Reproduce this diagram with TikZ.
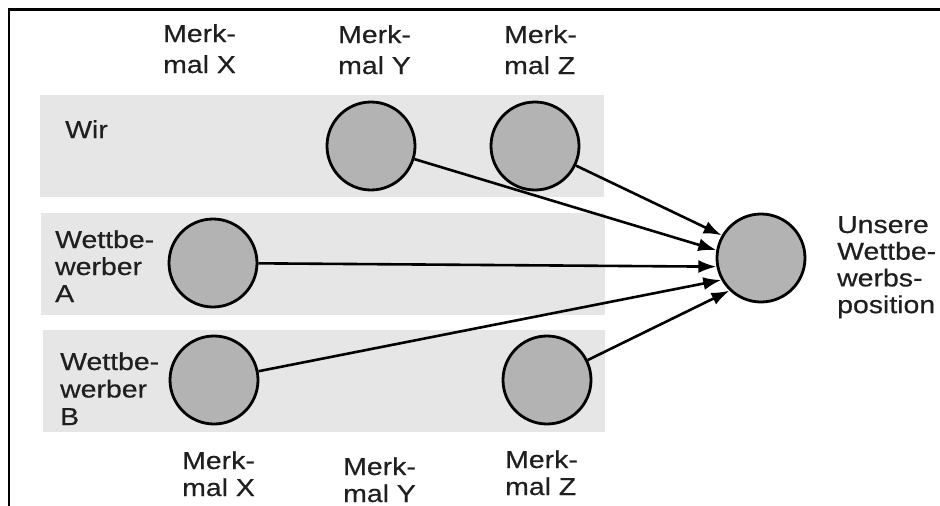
\documentclass[tikz,border=0pt]{standalone}
\usepackage{fontspec}
\setmainfont{Liberation Sans}[FakeStretch=1.16,FakeBold=0.5]
\usetikzlibrary{arrows.meta}

% left-aligned block of lines whose reference point is the first baseline
\newcommand\linestack[2]{\vtop{\baselineskip=#1pt\lineskiplimit=-20pt\lineskip=0pt
  \halign{##\hfil\cr#2\crcr}}}

\definecolor{bandgray}{HTML}{E6E6E6}
\definecolor{dotgray}{HTML}{B3B3B3}

\begin{document}
\begin{tikzpicture}[x=1pt,y=-1pt,
  every node/.style={font=\fontsize{24.5}{28}\selectfont},
  label/.style={anchor=base west,inner sep=0pt,text=black!88},
  band/.style={fill=bandgray,draw=none},
  dot/.style={circle,draw=black,fill=dotgray,line width=2.8pt,minimum size=88pt,inner sep=0pt},
  link/.style={line width=2.6pt,-{Latex[length=18pt,width=13pt]}}]
\useasboundingbox (0,0) rectangle (940,506);

% frame edges
\draw[line width=3pt] (8,9) -- (940,9);
\draw[line width=2.6pt] (9,8) -- (9,506);

% row bands
\fill[band] (40,95) rectangle (604,197);
\fill[band] (41,213) rectangle (605,315);
\fill[band] (43,330) rectangle (605,432);

% column headings
\node[label] (hx) at (163,42) {\linestack{31}{Merk-\cr mal X}};
\node[label] (hy) at (338,43) {\linestack{31}{Merk-\cr mal Y}};
\node[label] (hz) at (504,43) {\linestack{31}{Merk-\cr mal Z}};
\node[label] (fx) at (182,469) {\linestack{27}{Merk-\cr mal X}};
\node[label] (fy) at (343,475) {\linestack{27}{Merk-\cr mal Y}};
\node[label] (fz) at (505,468) {\linestack{27}{Merk-\cr mal Z}};

% row headings
\node[label] (rw) at (65,138) {Wir};
\node[label] (ra) at (55,248) {\linestack{27}{Wettbe-\cr werber\cr A}};
\node[label] (rb) at (60,370) {\linestack{27.5}{Wettbe-\cr werber\cr B}};
\node[label] (rt) at (837,233) {\linestack{26.7}{Unsere\cr Wettbe-\cr werbs-\cr position}};

% feature circles
\node[dot] (wy) at (371,146) {};
\node[dot] (wz) at (535,146) {};
\node[dot] (ax) at (213,263) {};
\node[dot] (bx) at (214,380) {};
\node[dot] (bz) at (547,380) {};
\node[dot] (t)  at (761,258) {};

% contributions to the overall position
\draw[link] (wz) -- (t.150);
\draw[link] (wy) -- (t.170);
\draw[link] (ax) -- (t.191);
\draw[link] (bx) -- (t.209);
\draw[link] (bz) -- (t.226);
\end{tikzpicture}
\end{document}
